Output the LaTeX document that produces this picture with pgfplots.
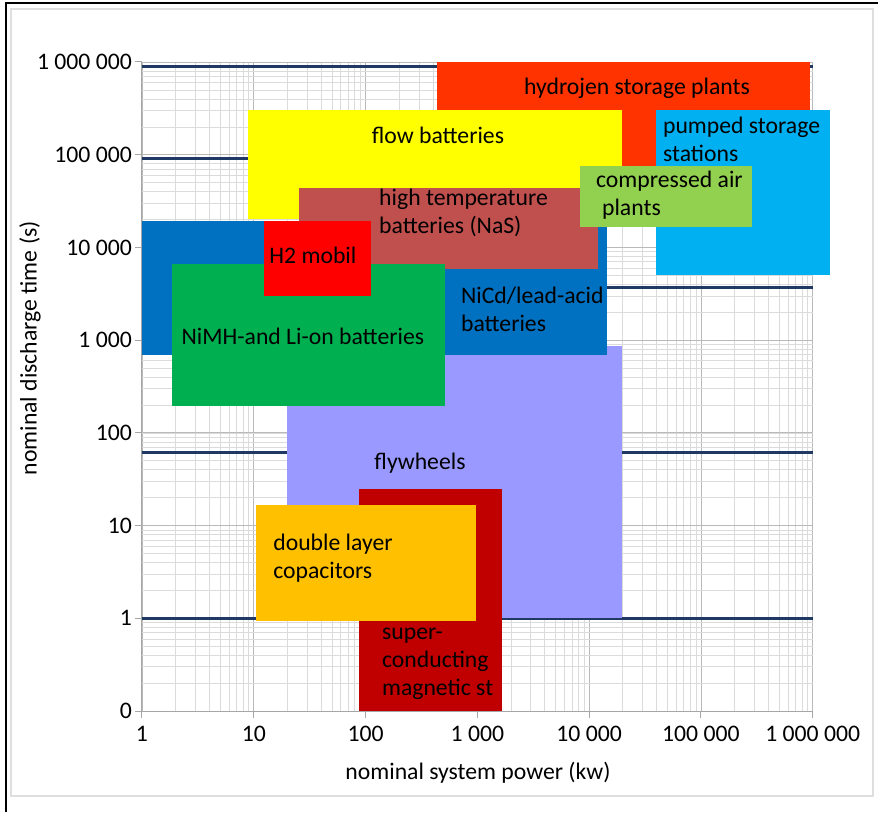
\documentclass[border=0pt]{standalone}
\usepackage{fontspec}
\setmainfont{Carlito}
\usepackage{pgfplots}
\pgfplotsset{compat=1.18}

\definecolor{hyd}{HTML}{FF3300}
\definecolor{flow}{HTML}{FFFF00}
\definecolor{pump}{HTML}{00B0F0}
\definecolor{caes}{HTML}{92D050}
\definecolor{nas}{HTML}{C0504D}
\definecolor{nicd}{HTML}{0070C0}
\definecolor{htwo}{HTML}{FF0000}
\definecolor{nimh}{HTML}{00B050}
\definecolor{fly}{HTML}{9999FF}
\definecolor{smes}{HTML}{C00000}
\definecolor{dlc}{HTML}{FFC000}
\definecolor{navyline}{HTML}{1F3864}

\begin{document}
\begin{tikzpicture}[font=\fontsize{23.7}{28}\selectfont]
% 1pt = 1px of the reference, origin at the axis' lower left corner
\useasboundingbox (-142pt,-101pt) rectangle (736pt,711pt);
\draw[black, line width=2pt] (-136pt,-101pt) -- (-136pt,708pt) -- (736pt,708pt);
\draw[gray!25, line width=1.5pt] (-131pt,-85pt) rectangle (731pt,702pt);

\begin{loglogaxis}[
  at={(0pt,0pt)}, anchor=south west,
  scale only axis, width=670.7pt, height=649pt,
  xmin=1, xmax=1e6, ymin=0.1, ymax=1e6,
  clip=false,
  axis x line*=bottom, axis y line*=left,
  axis line style={gray!70, line width=1pt},
  xtick={1,10,100,1000,10000,100000,1000000},
  xticklabels={1,10,100,1 000,10 000,100 000,1 000 000},
  ytick={0.1,1,10,100,1000,10000,100000,1000000},
  yticklabels={0,1,10,100,1 000,10 000,100 000,1 000 000},
  tick align=outside, major tick length=7pt, minor tick length=0pt,
  tick style={gray!70, line width=1pt},
  grid=both,
  major grid style={gray!55, line width=0.8pt},
  minor grid style={gray!28, line width=0.6pt},
  x tick label style={inner sep=3pt, yshift=-5pt},
  y tick label style={inner sep=3pt},
  xlabel={nominal system power (kw)},
  ylabel={nominal discharge time (s)},
  xlabel style={at={(axis description cs:0.501,-0.0955)}, anchor=center},
  ylabel style={at={(axis description cs:-0.167,0.559)}, anchor=center},
  box/.style={draw=none, fill=#1, forget plot},
  every node/.append style={text=black!85},
]

% thick navy lines behind the boxes
\addplot[navyline, line width=3pt, forget plot] coordinates {(1,9e5)(1e6,9e5)};
\addplot[navyline, line width=3pt, forget plot] coordinates {(1,9e4)(1e6,9e4)};
\addplot[navyline, line width=3pt, forget plot] coordinates {(1,3720)(1e6,3720)};
\addplot[navyline, line width=3pt, forget plot] coordinates {(1,60.8)(1e6,60.8)};
\addplot[navyline, line width=3pt, forget plot] coordinates {(1,1)(1e6,1)};

% technology ranges (power kW, discharge time s)
\addplot[box=fly]  coordinates {(19.7,1)(19500,1)(19500,875)(19.7,875)} --cycle;
\addplot[box=nicd] coordinates {(1,694)(14500,694)(14500,19500)(1,19500)} --cycle;
\addplot[box=hyd]  coordinates {(435,32000)(9.4e5,32000)(9.4e5,1e6)(435,1e6)} --cycle;
\addplot[box=flow] coordinates {(8.93,20300)(19500,20300)(19500,3e5)(8.93,3e5)} --cycle;
\addplot[box=pump] coordinates {(39600,5100)(1.43e6,5100)(1.43e6,3e5)(39600,3e5)} --cycle;
\addplot[box=nas]  coordinates {(25.4,5880)(12000,5880)(12000,44000)(25.4,44000)} --cycle;
\addplot[box=caes] coordinates {(8270,16500)(2.88e5,16500)(2.88e5,75200)(8270,75200)} --cycle;
\addplot[box=nimh] coordinates {(1.87,197)(513,197)(513,6650)(1.87,6650)} --cycle;
\addplot[box=htwo] coordinates {(12.4,3030)(111,3030)(111,19500)(12.4,19500)} --cycle;
\addplot[box=smes] coordinates {(87.9,0.1)(1650,0.1)(1650,25)(87.9,25)} --cycle;
\addplot[box=dlc]  coordinates {(10.5,0.93)(966,0.93)(966,16.7)(10.5,16.7)} --cycle;

% labels
\node at (axis cs:26800,5.18e5) {hydrojen storage plants};
\node at (axis cs:444,1.6e5) {flow batteries};
\node[anchor=west, inner sep=0pt, align=left] at (axis cs:45700,1.46e5) {pumped storage\\stations};
\node[anchor=west, inner sep=0pt, align=left] at (axis cs:11500,36300) {compressed air\\\hspace{6pt}plants};
\node[anchor=west, inner sep=0pt, align=left] at (axis cs:132,23800) {high temperature\\batteries (NaS)};
\node[anchor=west, inner sep=0pt, align=left] at (axis cs:713,2140) {NiCd/lead-acid\\batteries};
\node at (axis cs:33.8,8130) {H2 mobil};
\node at (axis cs:27.5,1094) {NiMH-and Li-on batteries};
\node at (axis cs:307,46.6) {flywheels};
\node[anchor=west, inner sep=0pt, align=left] at (axis cs:140,0.325) {super-\\conducting\\magnetic st};
\node[anchor=west, inner sep=0pt, align=left] at (axis cs:14.9,4.46) {double layer\\copacitors};
\end{loglogaxis}
\end{tikzpicture}
\end{document}
